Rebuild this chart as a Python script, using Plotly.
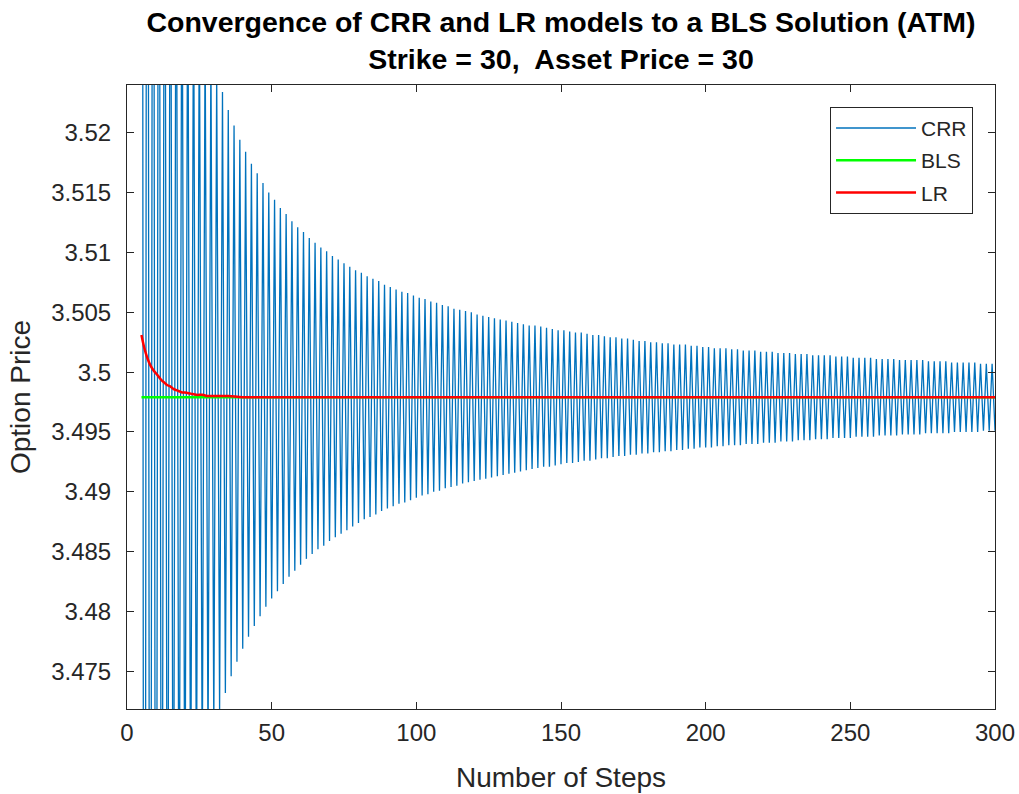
import plotly.graph_objects as go

# ---------------- data ----------------
crr_steps = list(range(5, 301))
crr_price = [
    3.6659, 3.3579, 3.6179, 3.3929, 3.5912, 3.4139, 3.5743, 3.4279, 3.5625, 3.4379,
    3.5539, 3.4454, 3.5473, 3.4512, 3.5421, 3.4559, 3.5379, 3.4597, 3.5344, 3.4629,
    3.5315, 3.4656, 3.5290, 3.4679, 3.5269, 3.4699, 3.5250, 3.4716, 3.5234, 3.4732,
    3.5219, 3.4746, 3.5206, 3.4758, 3.5194, 3.4769, 3.5184, 3.4779, 3.5174, 3.4788,
    3.5166, 3.4796, 3.5158, 3.4804, 3.5150, 3.4811, 3.5144, 3.4817, 3.5137, 3.4823,
    3.5132, 3.4829, 3.5126, 3.4834, 3.5121, 3.4839, 3.5117, 3.4844, 3.5112, 3.4848,
    3.5108, 3.4852, 3.5104, 3.4855, 3.5101, 3.4859, 3.5097, 3.4862, 3.5094, 3.4865,
    3.5091, 3.4868, 3.5088, 3.4871, 3.5085, 3.4874, 3.5083, 3.4877, 3.5080, 3.4879,
    3.5078, 3.4881, 3.5076, 3.4884, 3.5073, 3.4886, 3.5071, 3.4888, 3.5069, 3.4890,
    3.5067, 3.4891, 3.5066, 3.4893, 3.5064, 3.4895, 3.5062, 3.4897, 3.5061, 3.4898,
    3.5059, 3.4900, 3.5058, 3.4901, 3.5056, 3.4903, 3.5055, 3.4904, 3.5053, 3.4905,
    3.5052, 3.4907, 3.5051, 3.4908, 3.5050, 3.4909, 3.5048, 3.4910, 3.5047, 3.4911,
    3.5046, 3.4912, 3.5045, 3.4913, 3.5044, 3.4914, 3.5043, 3.4915, 3.5042, 3.4916,
    3.5041, 3.4917, 3.5040, 3.4918, 3.5039, 3.4919, 3.5039, 3.4920, 3.5038, 3.4921,
    3.5037, 3.4921, 3.5036, 3.4922, 3.5035, 3.4923, 3.5035, 3.4924, 3.5034, 3.4924,
    3.5033, 3.4925, 3.5033, 3.4926, 3.5032, 3.4926, 3.5031, 3.4927, 3.5031, 3.4928,
    3.5030, 3.4928, 3.5029, 3.4929, 3.5029, 3.4930, 3.5028, 3.4930, 3.5028, 3.4931,
    3.5027, 3.4931, 3.5026, 3.4932, 3.5026, 3.4932, 3.5025, 3.4933, 3.5025, 3.4933,
    3.5024, 3.4934, 3.5024, 3.4934, 3.5023, 3.4935, 3.5023, 3.4935, 3.5023, 3.4936,
    3.5022, 3.4936, 3.5022, 3.4937, 3.5021, 3.4937, 3.5021, 3.4937, 3.5020, 3.4938,
    3.5020, 3.4938, 3.5020, 3.4939, 3.5019, 3.4939, 3.5019, 3.4939, 3.5018, 3.4940,
    3.5018, 3.4940, 3.5018, 3.4940, 3.5017, 3.4941, 3.5017, 3.4941, 3.5017, 3.4941,
    3.5016, 3.4942, 3.5016, 3.4942, 3.5016, 3.4942, 3.5015, 3.4943, 3.5015, 3.4943,
    3.5015, 3.4943, 3.5014, 3.4944, 3.5014, 3.4944, 3.5014, 3.4944, 3.5014, 3.4945,
    3.5013, 3.4945, 3.5013, 3.4945, 3.5013, 3.4945, 3.5012, 3.4946, 3.5012, 3.4946,
    3.5012, 3.4946, 3.5012, 3.4946, 3.5011, 3.4947, 3.5011, 3.4947, 3.5011, 3.4947,
    3.5011, 3.4947, 3.5010, 3.4948, 3.5010, 3.4948, 3.5010, 3.4948, 3.5010, 3.4948,
    3.5010, 3.4949, 3.5009, 3.4949, 3.5009, 3.4949, 3.5009, 3.4949, 3.5009, 3.4949,
    3.5008, 3.4950, 3.5008, 3.4950, 3.5008, 3.4950, 3.5008, 3.4950, 3.5008, 3.4950,
    3.5007, 3.4951, 3.5007, 3.4951, 3.5007, 3.4951,
]

bls_steps = [5, 300]
bls_price = [3.4979, 3.4979]

lr_steps = [5, 6, 7, 8, 9, 10, 11, 12, 13, 14, 15, 16, 17, 18, 19, 20,
            22, 24, 26, 28, 30, 35, 40, 50, 100, 150, 200, 250, 300]
lr_price = [3.5031, 3.5020, 3.5012, 3.5006, 3.5002, 3.4999, 3.4996, 3.4993,
            3.4991, 3.4989, 3.4988, 3.4986, 3.4985, 3.4984, 3.4983, 3.4983,
            3.4982, 3.4981, 3.4981, 3.4980, 3.4980, 3.4980, 3.4979, 3.4979,
            3.4979, 3.4979, 3.4979, 3.4979, 3.4979]

y_ticks = [3.475, 3.48, 3.485, 3.49, 3.495, 3.5, 3.505, 3.51, 3.515, 3.52]
y_tick_text = ["3.475", "3.48", "3.485", "3.49", "3.495", "3.5", "3.505", "3.51", "3.515", "3.52"]
x_ticks = [0, 50, 100, 150, 200, 250, 300]

FONT = "Liberation Sans, Arial, Helvetica, sans-serif"
AX = "#262626"

fig = go.Figure()
fig.add_trace(go.Scatter(x=crr_steps, y=crr_price, mode="lines", name="CRR",
                         legendgroup="crr",
                         line=dict(color="#0072BD", width=1.3)))
fig.add_trace(go.Scatter(x=bls_steps, y=bls_price, mode="lines", name="BLS",
                         legendgroup="bls",
                         line=dict(color="#00FF00", width=2.5)))
fig.add_trace(go.Scatter(x=lr_steps, y=lr_price, mode="lines", name="LR",
                         legendgroup="lr",
                         line=dict(color="#FF0000", width=2.5, shape="spline")))

axis_common = dict(showgrid=False, zeroline=False, showline=True, mirror="ticks",
                   linecolor=AX, linewidth=1, ticks="inside", ticklen=7,
                   tickcolor=AX, automargin=False,
                   tickfont=dict(family=FONT, size=24, color=AX))

fig.update_xaxes(range=[0, 300], tickvals=x_ticks, ticklabelstandoff=2,
                 title=dict(text="Number of Steps", font=dict(family=FONT, size=28, color=AX), standoff=22),
                 **axis_common)
fig.update_yaxes(range=[3.47186, 3.52398], tickvals=y_ticks, ticktext=y_tick_text,
                 ticklabelstandoff=10,
                 title=dict(text="Option Price", font=dict(family=FONT, size=28, color=AX), standoff=12),
                 **axis_common)

fig.update_layout(
    width=1019, height=794,
    paper_bgcolor="white", plot_bgcolor="white",
    margin=dict(l=127, r=24, t=85, b=85),
    title=dict(text="<b>Convergence of CRR and LR models to a BLS Solution (ATM)</b><br>"
                    "<b>Strike = 30,&nbsp; Asset Price = 30</b>",
               x=0.5, xref="paper", xanchor="center",
               y=1, yref="paper", yanchor="bottom",
               pad=dict(t=0, b=53),
               font=dict(family=FONT, size=28.5, color="black")),
    legend=dict(x=0.9747, xanchor="right", y=0.965, yanchor="top",
                bordercolor=AX, borderwidth=1, bgcolor="white",
                font=dict(family=FONT, size=21, color=AX),
                itemwidth=80, tracegroupgap=2),
    showlegend=True,
)

fig.write_html("out.html", config={"displayModeBar": False},
               post_script="document.body.style.margin='0px';")
